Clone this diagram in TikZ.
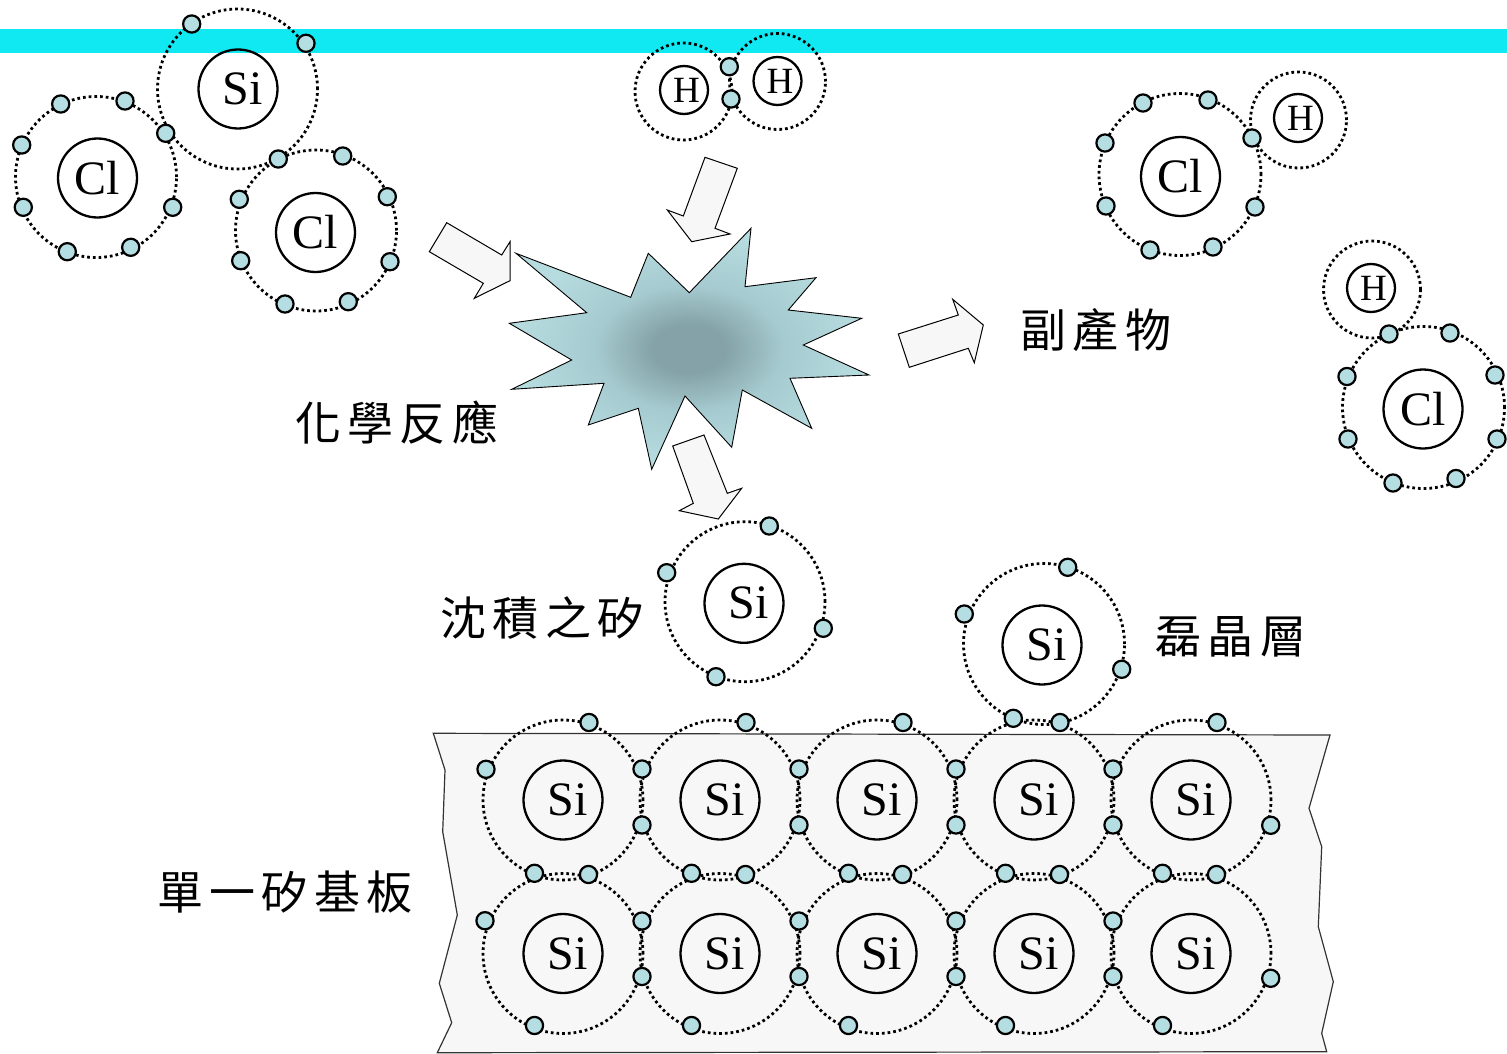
\documentclass[tikz,border=0pt]{standalone}
\usepackage{fontspec}
\setmainfont{Liberation Serif}
\newfontfamily\cjk[LetterSpace=14]{Noto Sans CJK TC}

\definecolor{barcyan}{RGB}{16,232,242}
\definecolor{elecfill}{RGB}{180,222,226}
\definecolor{paper}{RGB}{247,247,247}
\definecolor{starout}{RGB}{182,220,224}
\definecolor{starmid}{RGB}{165,202,207}
\definecolor{starin}{RGB}{132,162,167}

% burst fill: dark core fading quickly to the pale rim colour
\pgfdeclareradialshading{burst}{\pgfpoint{0bp}{0bp}}{%
  color(0bp)=(starin); color(5bp)=(starin); color(13bp)=(starmid);
  color(24bp)=(starout); color(50bp)=(starout)}

\newcommand{\siatom}{\raisebox{-3pt}{\kern9pt Si}}
\newcommand{\hatom}{\kern5pt H}

\tikzset{
  orbit/.style={line width=2.8pt, dash pattern=on 2.7pt off 3pt},
  nuc/.style={circle, draw, line width=2.3pt, minimum size=79pt, inner sep=0pt,
              font=\fontsize{48}{48}\selectfont},
  hnuc/.style={nuc, minimum size=48pt, font=\fontsize{37}{37}\selectfont},
  elec/.style={draw, fill=elecfill, line width=2.2pt},
  blockarrow/.style={draw, fill=paper, line width=1pt, line join=miter},
  cjklabel/.style={font=\cjk\fontsize{46}{46}\selectfont, inner sep=0pt}
}

\begin{document}
\begin{tikzpicture}[x=1pt, y=-1pt]
\useasboundingbox (0,0) rectangle (1507,1054);

% gas-flow band along the top
\fill[barcyan] (0,29.3) rectangle (1507,53.3);

% single-crystal silicon substrate
\filldraw[fill=paper, draw=black!80, line width=1.2pt]
  (433.3,733.3) -- (1330,735) -- (1309,808.3) -- (1321.7,846.7) -- (1318.3,926.7)
  -- (1333.3,981.7) -- (1321.7,1033.3) -- (1326.7,1051.7) -- (437.3,1052.7)
  -- (451.7,1022.7) -- (439.3,983.3) -- (457.3,915) -- (442.7,831.7) -- (445,770) -- cycle;

% ---------- reactants: SiCl2 ----------
\node[nuc] (si0) at (238,89) {\siatom};
\node[nuc] (cla) at (97.5,178) {Cl};
\node[nuc] (clb) at (315.5,232.5) {Cl};
\draw[orbit] (237.5,89) circle[radius=80pt];
\draw[orbit] (96,177) circle[radius=80.5pt];
\draw[orbit] (316,230.5) circle[radius=80.5pt];

% ---------- reactant: H2 ----------
\node[hnuc] (ha) at (684,90) {\hatom};
\node[hnuc] (hb) at (777.5,81) {\hatom};
\draw[orbit] (683.5,91.5) circle[radius=48.5pt];
\draw[orbit] (777.5,81.5) circle[radius=48pt];

% ---------- by-products: HCl ----------
\node[nuc] (clc) at (1180.5,176.5) {Cl};
\node[hnuc] (hc) at (1298,118) {\hatom};
\draw[orbit] (1180,174.5) circle[radius=81pt];
\draw[orbit] (1298.5,120) circle[radius=48pt];

\node[nuc] (cld) at (1423,409) {Cl};
\node[hnuc] (hd) at (1371,288) {\hatom};
\draw[orbit] (1423.5,407.5) circle[radius=81pt];
\draw[orbit] (1372,289.5) circle[radius=48.5pt];

% ---------- reaction burst ----------
\shadedraw[shading=burst, line width=0.9pt, line join=miter]
  (516,253.3) -- (630.7,297.3) -- (648.3,253.3) -- (689.3,292.7) -- (751,228.3)
  -- (745,286.7) -- (816,277.7) -- (788.3,310) -- (861.7,318.3) -- (803.3,345)
  -- (869,375) -- (790,378.3) -- (811.7,428.3) -- (742.3,390) -- (731.7,447.3)
  -- (685,396) -- (651.7,469.3) -- (638.3,408.3) -- (588.3,425) -- (604,383.3)
  -- (511.7,389.3) -- (571.7,360) -- (509.3,323.3) -- (586.7,312.7) -- cycle;

% ---------- block arrows ----------
\draw[blockarrow] (446.7,222.7) -- (501.7,255) -- (510,241.7) -- (510,280.7)
  -- (474.3,298.3) -- (483.3,283.3) -- (429.3,251.7) -- cycle;
\draw[blockarrow] (705,157.3) -- (737.3,168.3) -- (715,228.3) -- (730,234)
  -- (691.7,241.7) -- (667.3,210) -- (683.3,216) -- cycle;
\draw[blockarrow] (672.7,446) -- (704,435) -- (727.3,493.3) -- (741.7,488.3)
  -- (718.3,519) -- (679.3,510.7) -- (693.3,503.3) -- cycle;
\draw[blockarrow] (898.3,334) -- (958.3,315) -- (952.7,299.3) -- (983.3,325)
  -- (974.3,362.7) -- (968.3,348.3) -- (909.3,367.3) -- cycle;

% ---------- deposited and epitaxial silicon ----------
\node[nuc] (sidep) at (744,603.3) {\siatom};
\draw[orbit] (745,601.7) circle[radius=80pt];
\node[nuc] (siepi) at (1042,645) {\siatom};
\draw[orbit] (1044,644) circle[radius=80.5pt];

% ---------- substrate lattice ----------
\foreach \cx [count=\i] in {563,720,877,1034,1191} {
  \draw[orbit] (\cx,800) circle[radius=80pt];
  \draw[orbit] (\cx,953.5) circle[radius=80pt];
  \node[nuc] (lat-a-\i) at (\cx,800) {\siatom};
  \node[nuc] (lat-b-\i) at (\cx,953.5) {\siatom};
}

% ---------- electrons ----------
\foreach \x/\y in {
  191.7/24, 306/43.3, 165.7/133.3, 278.3/159,
  60.7/104, 125/101, 21.7/145, 23.3/207.3, 172.7/207.3, 67.3/251.7, 130.7/247.3,
  342.7/156, 239.3/199.3, 387.3/196.7, 240.7/260.7, 390/261.7, 285/304, 348.3/301.7,
  729.3/66.7, 731/99,
  1143/103, 1208/100, 1105/143, 1252/138, 1106/206, 1255/207, 1150/250, 1213/247,
  1389/334, 1450/333, 1347/376.5, 1495/375, 1348/439, 1497/439, 1393/483, 1456/478.5,
  769.3/526, 666.7/572.7, 823.3/628.3, 716/676.7,
  1067.7/567.3, 964.3/614, 1121.7/669.3, 1013.3/718.3,
  486/769.3, 485/920.7, 1270.7/825.3, 1270.7/978.3}
  \draw[elec] (\x,\y) circle[radius=8.6pt];

\foreach \cx in {563,720,877,1034,1191} {
  \draw[elec] (\cx+26,722.5) circle[radius=8.6pt];
  \draw[elec] (\cx-28.5,873.3) circle[radius=8.6pt];
  \draw[elec] (\cx+25.5,874.5) circle[radius=8.6pt];
  \draw[elec] (\cx-28.5,1025.5) circle[radius=8.6pt];
}
\foreach \bx in {641.5,798.5,955.5,1112.5} {
  \draw[elec] (\bx+0.5,769) circle[radius=8.6pt];
  \draw[elec] (\bx+0.5,825) circle[radius=8.6pt];
  \draw[elec] (\bx+0.5,921) circle[radius=8.6pt];
  \draw[elec] (\bx+0.5,976.5) circle[radius=8.6pt];
}

% ---------- captions ----------
\node[cjklabel] (t-react) at (396.7,423) {化學反應};
\node[cjklabel] (t-byprod) at (1096,330) {副產物};
\node[cjklabel] (t-dep) at (542,618) {沈積之矽};
\node[cjklabel] (t-epi) at (1231,637) {磊晶層};
\node[cjklabel] (t-sub) at (285,892) {單一矽基板};
\end{tikzpicture}
\end{document}
